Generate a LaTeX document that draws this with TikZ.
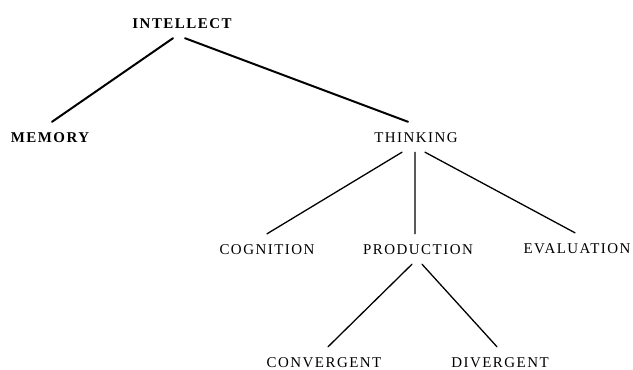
\documentclass[tikz,border=0pt]{standalone}
\usepackage{fontspec}
\setmainfont{Liberation Serif}[LetterSpace=10]
\usepackage{tikz}

\begin{document}
\begin{tikzpicture}[x=1bp,y=-1bp,
    concept/.style={inner xsep=2bp,inner ysep=10bp,text height=10bp,text depth=0pt,
        font=\fontsize{15}{17}\selectfont},
    topconcept/.style={concept,font=\fontsize{15}{17}\selectfont\bfseries},
    branch/.style={line width=2pt,line cap=round},
    twig/.style={line width=1.3pt,line cap=round}]
            \useasboundingbox (0,0) rectangle (633,369);

            \node[topconcept] (intellect) at (182,23) {INTELLECT};
            \node[topconcept] (memory) at (50,137) {MEMORY};
            \node[concept] (thinking) at (416,137) {THINKING};
            \node[concept] (cognition) at (267,249) {COGNITION};
            \node[concept] (production) at (418,249) {PRODUCTION};
            \node[concept] (evaluation) at (577,248) {EVALUATION};
            \node[concept] (convergent) at (324,362) {CONVERGENT};
            \node[concept] (divergent) at (500,362) {DIVERGENT};

            \draw [branch] ([xshift=-9bp]intellect.south) -- ([xshift=2bp]memory.north);
            \draw [branch] ([xshift=3bp]intellect.south) -- ([xshift=-8bp]thinking.north);

            \draw [twig] ([xshift=-14bp]thinking.south) -- (cognition.north);
            \draw [twig] ([xshift=-1bp]thinking.south) -- ([xshift=-3bp]production.north);
            \draw [twig] ([xshift=9bp]thinking.south) -- ([xshift=-2bp]evaluation.north);

            \draw [twig] ([xshift=-6bp]production.south) -- ([xshift=4bp]convergent.north);
            \draw [twig] ([xshift=4bp]production.south) -- ([xshift=-3bp]divergent.north);
        \end{tikzpicture}
\end{document}
